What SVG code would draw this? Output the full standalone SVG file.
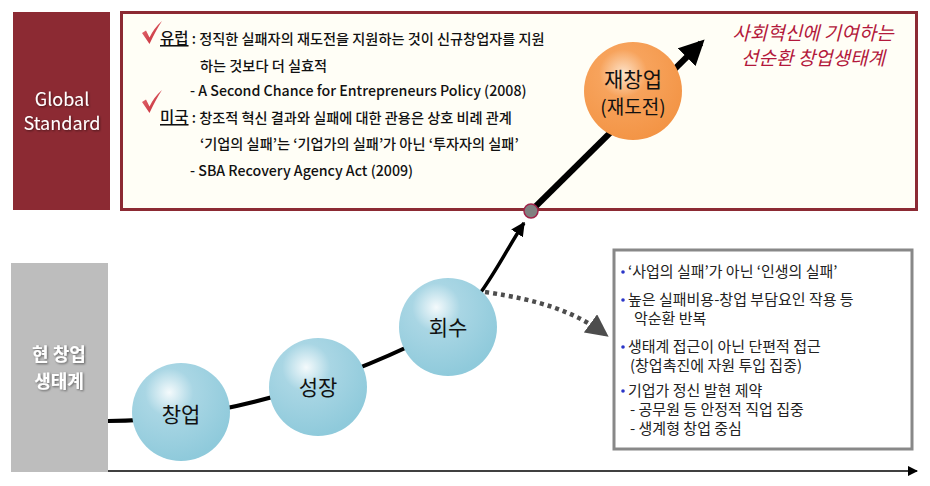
<svg xmlns="http://www.w3.org/2000/svg" width="930" height="486" viewBox="0 0 930 486">
<defs>
<radialGradient id="gBlue" cx="0.38" cy="0.3" r="0.7">
<stop offset="0" stop-color="#F4FAFC"/>
<stop offset="0.35" stop-color="#A9D6E4"/>
<stop offset="1" stop-color="#8FCADB"/>
</radialGradient>
<radialGradient id="gOrange" cx="0.4" cy="0.32" r="0.7">
<stop offset="0" stop-color="#FDE2C8"/>
<stop offset="0.35" stop-color="#F7A35C"/>
<stop offset="1" stop-color="#F39445"/>
</radialGradient>
<linearGradient id="gCheck" x1="0" y1="0" x2="1" y2="1">
<stop offset="0" stop-color="#E8747A"/>
<stop offset="1" stop-color="#C0222E"/>
</linearGradient>
<filter id="sh" x="-10%" y="-10%" width="130%" height="140%">
<feDropShadow dx="1" dy="1" stdDeviation="0.8" flood-color="#000" flood-opacity="0.5"/>
</filter>
<marker id="mBlack" viewBox="0 0 10 10" refX="9" refY="5" markerWidth="4" markerHeight="4" orient="auto" markerUnits="strokeWidth">
<path d="M0,0 L10,5 L0,10 Z" fill="#000"/>
</marker>
<marker id="mThick" viewBox="0 0 10 10" refX="8" refY="5" markerWidth="4.2" markerHeight="4.2" orient="auto" markerUnits="strokeWidth">
<path d="M0,0 L10,5 L0,10 Z" fill="#000"/>
</marker>
<marker id="mGray" viewBox="0 0 10 10" refX="8" refY="5" markerWidth="5" markerHeight="5" orient="auto" markerUnits="strokeWidth">
<path d="M0,0 L10,5 L0,10 Z" fill="#4D4D4D"/>
</marker>
<marker id="mAxis" viewBox="0 0 10 10" refX="9" refY="5" markerWidth="7" markerHeight="7" orient="auto" markerUnits="strokeWidth">
<path d="M0,0 L10,5 L0,10 Z" fill="#000"/>
</marker>
</defs>
<style>
text{font-family:"Noto Sans CJK KR","Noto Sans",sans-serif;}
.lbl{fill:#fff;font-size:18px;text-anchor:middle;}
.body{font-size:14.2px;fill:#111;font-weight:500;}
.rt{font-size:15px;fill:#222;}
.node{font-size:21px;fill:#111;text-anchor:middle;}
.red{font-size:19px;fill:#B3183B;text-anchor:middle;font-style:italic;}
.bul{fill:#2A35C8;}
</style>

<g id="global-standard">
<rect x="13" y="12" width="97" height="198" fill="#8C2A33"/>
<text class="lbl" x="62" y="106" filter="url(#sh)">Global</text>
<text class="lbl" x="62" y="130" filter="url(#sh)">Standard</text>
</g>

<g id="global-box">
<rect x="121.5" y="12.5" width="795" height="197" fill="#FFFEF6" stroke="#8C2A33" stroke-width="3"/>
<path d="M142,33 L146,30.5 L149.5,37.5 Q154,28 162,21 Q156,30 149.5,44 Z" fill="url(#gCheck)"/>
<path d="M142,102 L146,99.5 L149.5,106.5 Q154,97 162,90 Q156,99 149.5,113 Z" fill="url(#gCheck)"/>
<text class="body" x="160" y="44"><tspan font-size="15.5" text-decoration="underline">유럽</tspan> : 정직한 실패자의 재도전을 지원하는 것이 신규창업자를 지원</text>
<text class="body" x="200" y="71">하는 것보다 더 실효적</text>
<text class="body" x="190" y="96">- A Second Chance for Entrepreneurs Policy (2008)</text>
<text class="body" x="160" y="123"><tspan font-size="15.5" text-decoration="underline">미국</tspan> : 창조적 혁신 결과와 실패에 대한 관용은 상호 비례 관계</text>
<text class="body" x="200" y="149">‘기업의 실패’는 ‘기업가의 실패’가 아닌 ‘투자자의 실패’</text>
<text class="body" x="190" y="176">- SBA Recovery Agency Act (2009)</text>
<text class="red" x="813" y="40">사회혁신에 기여하는</text>
<text class="red" x="813" y="65">선순환 창업생태계</text>
</g>

<g id="current-ecosystem">
<rect x="11" y="263" width="97" height="209" fill="#BDBDBD"/>
<text class="lbl" x="59" y="361" font-weight="bold" filter="url(#sh)">현 창업</text>
<text class="lbl" x="59" y="388" font-weight="bold" filter="url(#sh)">생태계</text>
</g>

<g id="problems-box">
<rect x="614" y="250" width="298" height="199" fill="#fff" stroke="#888" stroke-width="3"/>
<circle class="bul" cx="623" cy="272" r="1.8"/>
<text class="rt" x="628" y="277">‘사업의 실패’가 아닌 ‘인생의 실패’</text>
<circle class="bul" cx="623" cy="300" r="1.8"/>
<text class="rt" x="628" y="305">높은 실패비용-창업 부담요인 작용 등</text>
<text class="rt" x="634" y="324">악순환 반복</text>
<circle class="bul" cx="623" cy="347" r="1.8"/>
<text class="rt" x="628" y="352">생태계 접근이 아닌 단편적 접근</text>
<text class="rt" x="630" y="371">(창업촉진에 자원 투입 집중)</text>
<circle class="bul" cx="623" cy="391" r="1.8"/>
<text class="rt" x="628" y="396">기업가 정신 발현 제약</text>
<text class="rt" x="630" y="415">- 공무원 등 안정적 직업 집중</text>
<text class="rt" x="630" y="434">- 생계형 창업 중심</text>
</g>

<g id="connectors" fill="none">
<line x1="108" y1="471" x2="917" y2="471" stroke="#000" stroke-width="1.5" marker-end="url(#mAxis)"/>
<path d="M108,421 C170,421 230,410 290,392 C350,374 400,352 448,327" stroke="#000" stroke-width="4"/>
<path d="M448,327 C482,302 502,256 524,223" stroke="#000" stroke-width="3.5" marker-end="url(#mBlack)"/>
<path d="M531,211 L701,43" stroke="#000" stroke-width="6" marker-end="url(#mThick)"/>
<path d="M485,292 C540,300 575,312 605,334" stroke="#4D4D4D" stroke-width="4.5" stroke-dasharray="4,4" marker-end="url(#mGray)"/>
</g>

<g id="node-dot">
<circle cx="531" cy="211" r="7" fill="#808080" stroke="#A0234A" stroke-width="1.5"/>
</g>

<g id="node-startup">
<circle cx="181" cy="412" r="49" fill="url(#gBlue)"/>
<text class="node" x="181" y="422">창업</text>
</g>
<g id="node-growth">
<circle cx="318" cy="387" r="49" fill="url(#gBlue)"/>
<text class="node" x="318" y="395">성장</text>
</g>
<g id="node-recovery">
<circle cx="448" cy="327" r="49" fill="url(#gBlue)"/>
<text class="node" x="448" y="335">회수</text>
</g>
<g id="node-restart">
<circle cx="633" cy="91" r="49" fill="url(#gOrange)"/>
<text class="node" x="633" y="87" font-size="21">재창업<tspan x="633" dy="27" font-size="19">(재도전)</tspan></text>
</g>
</svg>
